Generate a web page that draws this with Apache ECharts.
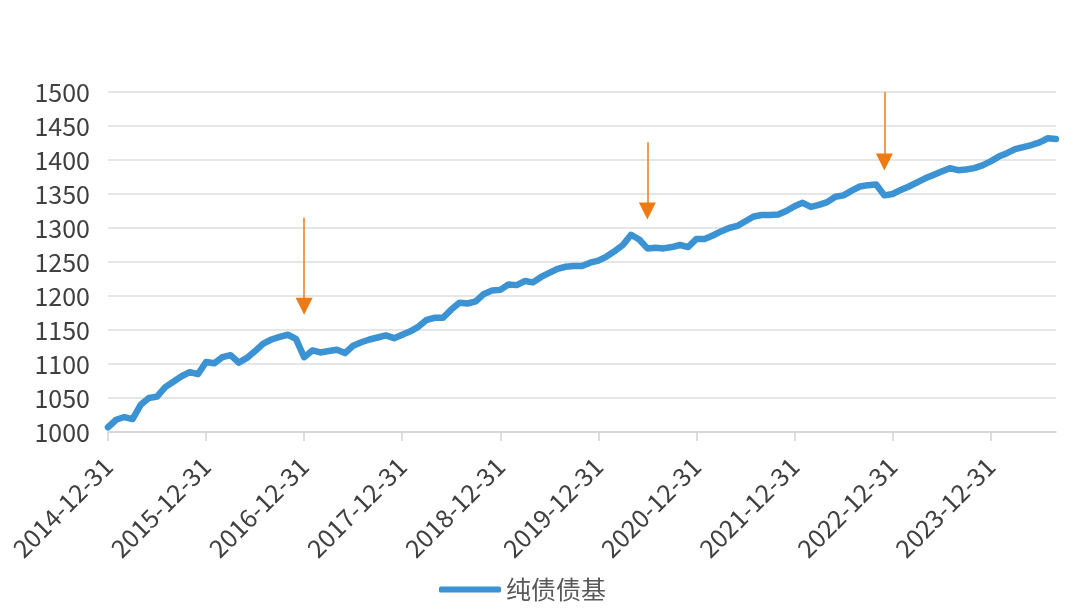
<!DOCTYPE html>
<html>
<head>
<meta charset="utf-8">
<script src="https://cdn.jsdelivr.net/npm/echarts@6/dist/echarts.min.js"></script>
<style>html,body{margin:0;padding:0;background:#fff;}#c{width:1080px;height:615px;}</style>
</head>
<body>
<div id="c"></div>
<script>
// month-end dates from 2014-12-31 to 2024-08-31
var startYear = 2014, startMonth = 12, monthCount = 117;
function monthEnd(y, m) {
  var d = new Date(Date.UTC(y, m, 0)).getUTCDate();
  return y + '-' + (m < 10 ? '0' + m : m) + '-' + d;
}
var categories = [];
for (var i = 0; i < monthCount; i++) {
  var mm = startMonth - 1 + i;
  categories.push(monthEnd(startYear + Math.floor(mm / 12), (mm % 12) + 1));
}
var seriesName = '纯债债基';
var navValues = [
  1007, 1018, 1022, 1019, 1040, 1050, 1052, 1066, 1074, 1082, 1088, 1085,
  1103, 1101, 1110, 1113, 1102, 1109, 1119, 1130, 1136, 1140, 1143, 1137,
  1110, 1120, 1117, 1119, 1121, 1116, 1127, 1132, 1136, 1139, 1142, 1138,
  1143, 1148, 1155, 1165, 1168, 1168, 1180, 1190, 1189, 1192, 1203, 1208,
  1209, 1217, 1216, 1222, 1220, 1228, 1234, 1240, 1243, 1244, 1244, 1249,
  1252, 1258, 1266, 1275, 1290, 1283, 1270, 1271, 1270, 1272, 1275, 1272,
  1284, 1284, 1289, 1295, 1300, 1303, 1310, 1317, 1319, 1319, 1320, 1325,
  1332, 1337, 1331, 1334, 1338, 1346, 1348, 1355, 1361, 1363, 1364, 1348,
  1350, 1356, 1361, 1367, 1373, 1378, 1383, 1388, 1385, 1386, 1388, 1392,
  1398, 1405, 1410, 1416, 1419, 1422, 1426, 1432, 1431
];
// annotation arrows: [category, start value, arrow-head value]
var arrowDates = ['2016-12-31', '2020-06-30', '2022-11-30'];
var arrowTops = [1315, 1426, 1500];
var arrowTips = [1185, 1325, 1397];

var yMin = 1000, yMax = 1500, yInterval = 50;

var arrowData = arrowDates.map(function (d, k) {
  return [
    { coord: [d, arrowTops[k]], symbol: 'none' },
    { coord: [d, arrowTips[k]], symbol: 'triangle' }
  ];
});

var chart = echarts.init(document.getElementById('c'));
var isYearEnd = function (idx, val) { return /-12-31$/.test(val); };
var font = '"Noto Sans CJK SC", "Noto Sans", sans-serif';
chart.setOption({
  animation: false,
  textStyle: { fontFamily: font },
  grid: { left: 108, right: 24, top: 92, bottom: 183, containLabel: false },
  legend: {
    data: [seriesName],
    bottom: 8,
    left: 434,
    icon: 'roundRect',
    itemWidth: 62,
    itemHeight: 6,
    itemGap: 5,
    textStyle: { fontSize: 25, color: '#595959', fontFamily: font }
  },
  xAxis: {
    type: 'category',
    data: categories,
    boundaryGap: false,
    axisLine: { lineStyle: { color: '#d4d4d4', width: 1.5 } },
    axisTick: { show: true, interval: isYearEnd, length: 9, lineStyle: { color: '#d4d4d4', width: 1.5 } },
    axisLabel: {
      interval: isYearEnd,
      rotate: 45,
      margin: 30,
      fontSize: 25,
      color: '#404040',
      fontFamily: font
    },
    splitLine: { show: false }
  },
  yAxis: {
    type: 'value',
    min: yMin,
    max: yMax,
    interval: yInterval,
    axisLine: { show: false },
    axisTick: { show: false },
    axisLabel: {
      fontSize: 25, color: '#404040', margin: 18, fontFamily: font,
      formatter: function (v) { return String(v); }
    },
    splitLine: { lineStyle: { color: '#dedede', width: 1.5 } }
  },
  series: [{
    name: seriesName,
    type: 'line',
    data: navValues,
    showSymbol: false,
    symbol: 'none',
    lineStyle: { color: '#3b93d3', width: 6.5, join: 'round', cap: 'round' },
    itemStyle: { color: '#3b93d3' },
    markLine: {
      silent: true,
      animation: false,
      symbolSize: [17, 17],
      label: { show: false },
      lineStyle: { color: '#f07a12', width: 1.5, type: 'solid' },
      itemStyle: { color: '#f07a12' },
      emphasis: { disabled: true },
      data: arrowData
    }
  }]
});
</script>
</body>
</html>
